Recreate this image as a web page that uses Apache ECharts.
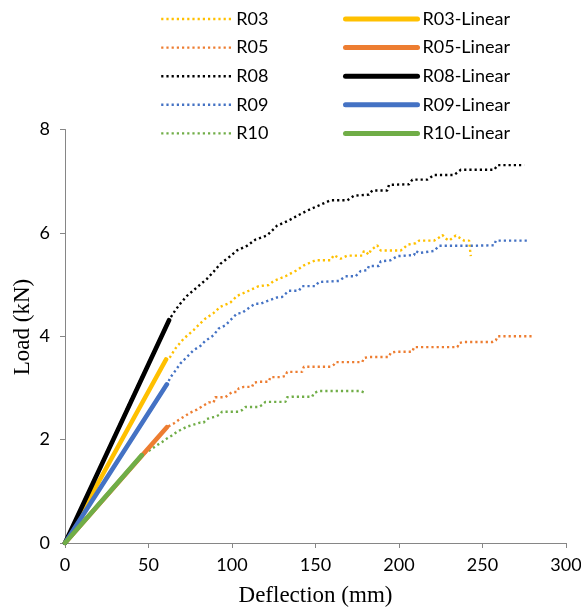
<!DOCTYPE html>
<html>
<head>
<meta charset="utf-8">
<script src="https://cdn.jsdelivr.net/npm/echarts@6/dist/echarts.min.js"></script>
<style>html,body{margin:0;padding:0;background:#fff;}#chart{width:581px;height:608px;}</style>
</head>
<body>
<div id="chart"></div>
<script>
// Tick labels
const xTicks = [0, 50, 100, 150, 200, 250, 300];
const yTicks = [0, 2, 4, 6, 8];

// Measured series [deflection mm, load kN]
const R03 = [[0,0],[30,1.76],[60,3.52],[63,3.6],[66,3.76],[71,3.95],[77,4.12],[81,4.25],[84,4.34],[89,4.45],[93,4.57],[99,4.65],[103,4.78],[110,4.88],[116,4.97],[122,4.99],[125,5.07],[132,5.16],[139,5.28],[143,5.37],[150,5.47],[159,5.47],[161,5.57],[165,5.50],[169,5.56],[178,5.56],[179,5.65],[182,5.58],[183,5.66],[187,5.76],[189,5.66],[201,5.66],[203,5.71],[205,5.77],[210,5.80],[212,5.85],[221,5.85],[224,5.91],[226,5.96],[228,5.89],[230,5.85],[234,5.95],[236,5.91],[239,5.85],[242,5.85],[242.3,5.76],[242.6,5.66],[243,5.55]];
const R05 = [[0,0],[30,1.1],[61,2.24],[65,2.31],[68,2.38],[71,2.44],[75,2.52],[79,2.58],[81,2.62],[84,2.68],[86,2.72],[89,2.72],[90,2.82],[96,2.82],[98,2.87],[100,2.92],[103,2.92],[104,2.99],[107,3.02],[112,3.02],[113,3.10],[116,3.12],[122,3.12],[123,3.21],[129,3.21],[132,3.23],[133,3.31],[142,3.31],[143,3.41],[159,3.41],[161,3.45],[162,3.50],[178,3.50],[179,3.58],[182,3.60],[194,3.60],[195,3.68],[198,3.70],[208,3.70],[209,3.79],[235,3.79],[236,3.87],[239,3.89],[256,3.89],[258,3.92],[259,4.00],[281,4.00]];
const R08 = [[0,0],[20,1.4],[40,2.8],[62,4.3],[66,4.5],[69,4.63],[73,4.78],[77,4.89],[81,5.0],[85,5.11],[89,5.25],[93,5.40],[99,5.55],[103,5.66],[109,5.75],[114,5.87],[121,5.95],[127,6.14],[134,6.24],[139,6.33],[145,6.43],[152,6.53],[159,6.63],[169,6.63],[173,6.72],[182,6.74],[184,6.82],[193,6.82],[194,6.93],[206,6.94],[208,7.03],[217,7.03],[221,7.12],[233,7.12],[237,7.22],[257,7.22],[259,7.31],[275,7.31]];
const R09 = [[0,0],[30,1.5],[61,3.05],[63,3.2],[66,3.33],[69,3.47],[73,3.6],[77,3.73],[81,3.81],[84,3.91],[89,4.02],[92,4.15],[96,4.21],[99,4.31],[103,4.44],[106,4.45],[111,4.57],[114,4.63],[117,4.63],[121,4.68],[127,4.75],[130,4.76],[134,4.88],[140,4.88],[142,4.97],[150,4.97],[152,5.05],[164,5.07],[168,5.16],[174,5.16],[177,5.26],[181,5.28],[182,5.36],[188,5.36],[189,5.45],[195,5.47],[199,5.55],[209,5.57],[210,5.65],[212,5.61],[221,5.65],[224,5.75],[243,5.75],[257,5.76],[258,5.85],[277,5.85]];
const R10 = [[0,0],[15,0.55],[30,1.1],[46,1.70],[51,1.80],[55,1.89],[58,1.95],[61,2.02],[64,2.08],[67,2.15],[70,2.2],[73,2.25],[77,2.29],[81,2.33],[83,2.33],[85,2.40],[88,2.43],[90,2.44],[93,2.49],[94,2.54],[104,2.54],[106,2.57],[108,2.63],[116,2.63],[118,2.67],[120,2.73],[132,2.73],[133,2.82],[136,2.83],[148,2.83],[149,2.90],[152,2.94],[177,2.94],[180,2.90]];

// Linear fits [start, end]
const R03Linear = [[0,0],[60.5,3.55]];
const R05Linear = [[0,0],[61,2.24]];
const R08Linear = [[0,0],[62.3,4.31]];
const R09Linear = [[0,0],[61,3.07]];
const R10Linear = [[0,0],[46,1.70]];

const names = ['R03','R05','R08','R09','R10'];
const measured = [R03, R05, R08, R09, R10];
const linear = [R03Linear, R05Linear, R08Linear, R09Linear, R10Linear];
const colors = ['#FFC000','#ED7D31','#000000','#4472C4','#70AD47'];

const series = [];
names.forEach((n, i) => {
  series.push({
    name: n, type: 'line', data: measured[i], symbol: 'none', smooth: false,
    lineStyle: { color: colors[i], width: 2.4, type: [2.2, 3], cap: 'butt' },
    itemStyle: { color: colors[i] }, z: 2, animation: false
  });
});
names.forEach((n, i) => {
  series.push({
    name: n + '-Linear', type: 'line', data: linear[i], symbol: 'none',
    lineStyle: { color: colors[i], width: 4.6, cap: 'round' },
    itemStyle: { color: colors[i] }, z: 3, animation: false
  });
});

const legendText = { fontFamily: 'Lato', fontSize: 18, color: '#000', lineHeight: 20 };
const legendBase = { orient: 'vertical', top: 9, itemHeight: 12, itemGap: 8.6, padding: 0, textStyle: legendText, itemStyle: { opacity: 0 } };
const chart = echarts.init(document.getElementById('chart'), null, { renderer: 'canvas' });
chart.setOption({
  animation: false,
  backgroundColor: '#fff',
  legend: [
    Object.assign({}, legendBase, { data: names, left: 160, itemWidth: 70, lineStyle: { width: 2.4, type: [2.2, 3], cap: 'butt' } }),
    Object.assign({}, legendBase, { data: names.map(n => n + '-Linear'), left: 343, itemWidth: 72, lineStyle: { width: 5, cap: 'round' } })
  ],
  graphic: [{
    type: 'text', x: 23, y: 327, rotation: Math.PI / 2,
    style: { text: 'Load (kN)', font: '23px "Liberation Serif"', fill: '#000', align: 'center', verticalAlign: 'middle' }
  }],
  grid: { left: 65, right: 15, top: 129.5, bottom: 65, containLabel: false, outerBoundsMode: 'none' },
  xAxis: {
    type: 'value', min: xTicks[0], max: xTicks[xTicks.length - 1], interval: xTicks[1] - xTicks[0],
    name: 'Deflection (mm)', nameLocation: 'middle', nameGap: 41,
    nameTextStyle: { fontFamily: 'Liberation Serif', fontSize: 23, color: '#000' },
    axisLine: { lineStyle: { color: '#868686', width: 1 } },
    axisTick: { show: true, inside: false, length: 5, lineStyle: { color: '#868686' } },
    axisLabel: { fontFamily: 'Lato', fontSize: 18, color: '#000', margin: 13 },
    splitLine: { show: false }
  },
  yAxis: {
    type: 'value', min: yTicks[0], max: yTicks[yTicks.length - 1], interval: yTicks[1] - yTicks[0],
    axisLine: { show: true, lineStyle: { color: '#868686', width: 1 } },
    axisTick: { show: true, inside: false, length: 5, lineStyle: { color: '#868686' } },
    axisLabel: { fontFamily: 'Lato', fontSize: 18, color: '#000', margin: 15 },
    splitLine: { show: false }
  },
  series: series
});
</script>
</body>
</html>
